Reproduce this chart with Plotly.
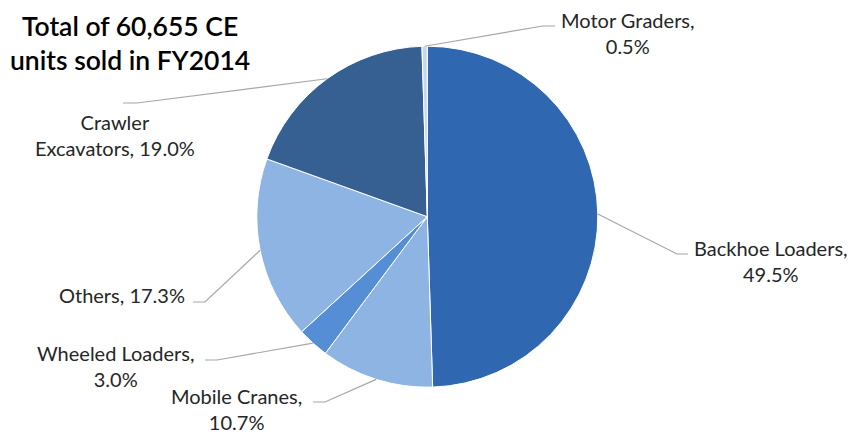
import math
import plotly.graph_objects as go

categories = ["Backhoe Loaders", "Mobile Cranes", "Wheeled Loaders", "Others",
              "Crawler Excavators", "Motor Graders"]
shares = [49.5, 10.7, 3.0, 17.3, 19.0, 0.5]
colors = ["#2F67B1", "#8EB4E3", "#558ED5", "#8EB4E3", "#366092", "#C6D9F1"]
label_texts = ["Backhoe Loaders,<br>49.5%", "Mobile Cranes,<br>10.7%",
               "Wheeled Loaders,<br>3.0%", "Others, 17.3%",
               "Crawler<br>Excavators, 19.0%", "Motor Graders,<br>0.5%"]

W, H = 865, 436
# pie geometry (pixels)
CX, CY, R = 427.3, 216.7, 170.5

# label layout (pixel centre of text block, xanchor) and leader elbow/end
label_pos = [(771, 261, "center"), (237, 409, "center"), (116, 366, "center"),
             (122, 295, "center"), (115, 135, "center"), (628, 33, "center")]
leader = [((677, 254), (688, 254)), ((325, 402), (313, 402)),
          ((217, 360), (205, 360)), ((205, 302), (193, 302)),
          ((137, 103), (123, 103)), ((543, 26), (555, 26))]


def px(x):
    return x / W


def py(y):
    return 1 - y / H


fig = go.Figure(go.Pie(
    labels=categories, values=shares, sort=False, direction="clockwise",
    rotation=0, textinfo="none", hoverinfo="label+percent",
    marker=dict(colors=colors, line=dict(color="white", width=1)),
    domain=dict(x=[px(CX - R), px(CX + R)], y=[py(CY + R), py(CY - R)]),
    showlegend=False,
))

total = sum(shares)
cum = 0.0
shapes = []
annotations = []
for i, v in enumerate(shares):
    mid = (cum + v / 2) / total
    cum += v
    ang = 2 * math.pi * mid
    ex = CX + R * math.sin(ang)
    ey = CY - R * math.cos(ang)
    (bx, by), (tx, ty) = leader[i]
    path = f"M {px(ex)},{py(ey)} L {px(bx)},{py(by)} L {px(tx)},{py(ty)}"
    shapes.append(dict(type="path", xref="paper", yref="paper", path=path,
                       line=dict(color="#A6A6A6", width=1.2)))
    lx, ly, anc = label_pos[i]
    annotations.append(dict(x=px(lx), y=py(ly), xref="paper", yref="paper",
                            text=label_texts[i], showarrow=False, xanchor=anc,
                            yanchor="middle", align="center",
                            font=dict(family="Lato", size=20, color="#262626")))

annotations.append(dict(x=px(130), y=py(43), xref="paper", yref="paper",
                        text="Total of 60,655 CE<br>units sold in FY2014",
                        showarrow=False, xanchor="center", yanchor="middle",
                        align="center",
                        font=dict(family="Lato", size=26.5, color="#000000",
                                  weight=600)))

fig.update_layout(width=W, height=H, margin=dict(l=0, r=0, t=0, b=0),
                  paper_bgcolor="white", plot_bgcolor="white",
                  shapes=shapes, annotations=annotations)

fig.write_html("out.html", config={"displayModeBar": False},
               post_script="document.body.style.margin='0px';"
                           "document.body.style.overflow='hidden';")
